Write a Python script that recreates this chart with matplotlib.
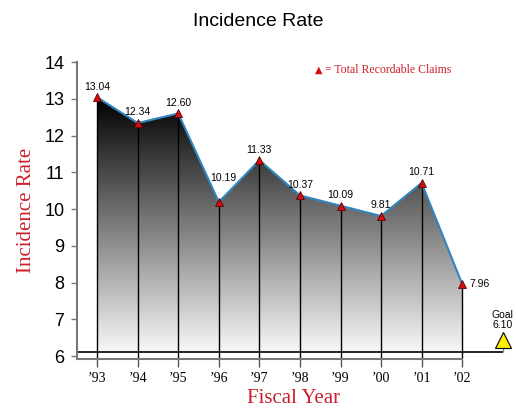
import numpy as np
import matplotlib
matplotlib.use("Agg")
import matplotlib.pyplot as plt
import matplotlib.transforms as mtransforms
from matplotlib.patches import Polygon

# chart data
years = ["\u201993", "\u201994", "\u201995", "\u201996", "\u201997",
         "\u201998", "\u201999", "\u201900", "\u201901", "\u201902"]
rates = [13.04, 12.34, 12.60, 10.19, 11.33, 10.37, 10.09, 9.81, 10.71, 7.96]
goal = 6.10

red = "#cc1f2a"
serif = ["Liberation Serif", "DejaVu Serif"]
sans = ["Liberation Sans", "DejaVu Sans"]

fig = plt.figure(figsize=(5.16, 4.08), dpi=100)
ax = fig.add_axes([0.149, 0.120, 0.841, 0.728])

x = np.arange(len(rates))
goal_x = len(rates)
ybot = 5.92
ax.set_xlim(-0.5, 10.2)
ax.set_ylim(ybot, 14)

# gradient fill under the line, clipped to the polygon
verts = [(0, goal)] + list(zip(x, rates)) + [(x[-1], goal)]
poly = Polygon(verts, closed=True, facecolor="none", edgecolor="none")
ax.add_patch(poly)
grad = np.linspace(0.97, 0.0, 256).reshape(-1, 1)
img = ax.imshow(grad, cmap="gray", vmin=0, vmax=1, aspect="auto",
                extent=[0, x[-1], goal, max(rates)], origin="lower", zorder=1)
img.set_clip_path(poly)

# drop lines and goal line
ax.vlines(x, ybot, rates, color="black", lw=1, zorder=2)
ax.hlines(goal, -0.5, goal_x, color="black", lw=1.2, zorder=2)

ax.plot(x, rates, color="#2f86bf", lw=1.5, zorder=3)
ax.plot(x, rates, ls="none", marker="^", ms=6, mfc="#d01010",
        mec="#600000", mew=0.6, zorder=4)

for i, v in enumerate(rates):
    if i == len(rates) - 1:
        xy_off, ha, va = (5, 0), "left", "center"
    elif i == 3:
        xy_off, ha, va = (3, 14), "center", "bottom"
    else:
        xy_off, ha, va = (0, 4), "center", "bottom"
    ax.annotate(f"{v:.2f}", (i, v), xytext=xy_off, textcoords="offset points",
                ha=ha, va=va, fontsize=7.5, family=sans)

# goal marker
off = mtransforms.offset_copy(ax.transData, fig=fig, x=0, y=12, units="dots")
ax.vlines(goal_x, goal, goal + 0.15, color="gray", lw=1, zorder=2)
ax.plot([goal_x], [goal], marker="^", ms=11, mfc="#ffee00", mec="black",
        mew=0.8, transform=off, zorder=5, clip_on=False)
ax.text(goal_x, goal + 0.62, f"Goal\n{goal:.2f}", ha="center", va="bottom",
        fontsize=7.5, family=sans, linespacing=0.95)

# legend note
ax.text(0.548, 0.973, "\u25b2", transform=ax.transAxes, color="#d01010",
        fontsize=7, family=["DejaVu Sans"], va="center")
ax.text(0.565, 0.973, " = Total Recordable Claims", transform=ax.transAxes,
        color=red, fontsize=8.5, family=serif, va="center")

# axes styling
for s in ["top", "right"]:
    ax.spines[s].set_visible(False)
ax.spines["left"].set_color("#777777")
ax.spines["bottom"].set_color("#777777")
ax.spines["left"].set_linewidth(1.5)
ax.spines["bottom"].set_linewidth(1.5)
ax.spines["bottom"].set_bounds(-0.5, x[-1])
ax.set_yticks(range(6, 15))
ax.set_yticklabels([str(t) for t in range(6, 15)], fontsize=13, family=sans)
ax.set_xticks(x)
ax.set_xticklabels(years, fontsize=10, family=serif)
ax.tick_params(axis="y", color="#777777", length=4, width=1, pad=5)
ax.tick_params(axis="x", color="#555555", length=6, width=1)

ax.set_ylabel("Incidence Rate", color=red, fontsize=15, family=serif, labelpad=6)
ax.set_xlabel("Fiscal Year", color=red, fontsize=15, family=serif, labelpad=3)
fig.text(0.5, 0.948, "Incidence Rate", ha="center", va="center",
         fontsize=14, family=sans)

fig.savefig("out.png", dpi=100)
